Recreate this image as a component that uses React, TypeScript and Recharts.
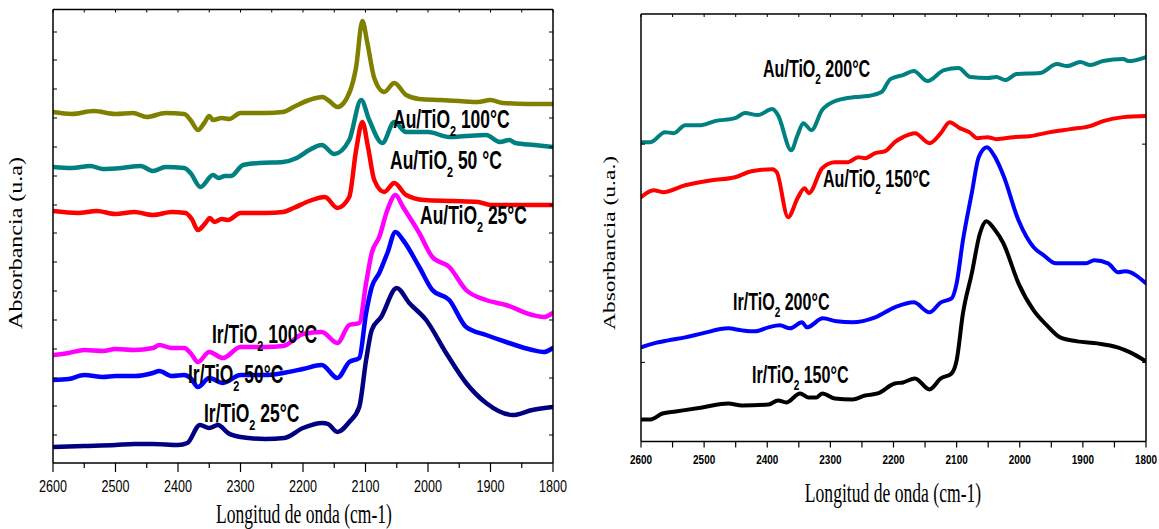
import { LineChart, Line, XAxis, YAxis } from "recharts"

// wavenumber (cm-1), absorbance (arbitrary units, offset per curve)
const auTi100 = [
  [2600, 351], [2570, 349], [2535, 352], [2500, 349], [2472, 350], [2450, 346], [2420, 350],
  [2390, 349], [2380, 343], [2368, 333], [2358, 340], [2350, 347], [2344, 343], [2330, 345],
  [2318, 344], [2300, 350], [2260, 350], [2232, 351], [2215, 356], [2190, 363], [2169, 366],
  [2158, 362], [2145, 356], [2126, 370], [2115, 396], [2105, 442], [2097, 420], [2086, 385],
  [2070, 371], [2054, 380], [2035, 368], [2014, 364], [1980, 363], [1950, 362], [1920, 361],
  [1900, 363], [1880, 360], [1840, 359], [1800, 359],
]
const auTi50 = [
  [2600, 296], [2570, 295], [2540, 297], [2520, 294], [2490, 295], [2460, 297], [2440, 292],
  [2420, 296], [2390, 295], [2380, 290], [2364, 276], [2344, 288], [2335, 285], [2325, 287],
  [2315, 287], [2296, 298], [2270, 300], [2232, 301], [2210, 305], [2190, 313], [2170, 318],
  [2150, 309], [2126, 323], [2107, 363], [2094, 343], [2073, 320], [2054, 341], [2035, 331],
  [2000, 331], [1966, 326], [1940, 327], [1907, 328], [1885, 321], [1870, 323], [1860, 320],
  [1830, 318], [1800, 316],
]
const auTi25 = [
  [2600, 252], [2560, 250], [2530, 252], [2500, 249], [2470, 251], [2440, 248], [2410, 251],
  [2388, 250], [2378, 244], [2368, 233], [2356, 240], [2349, 245], [2342, 241], [2330, 244],
  [2320, 243], [2300, 250], [2260, 250], [2232, 251], [2215, 255], [2190, 262], [2165, 266],
  [2145, 255], [2126, 266], [2115, 313], [2105, 341], [2096, 316], [2086, 283], [2070, 271],
  [2054, 280], [2035, 268], [2006, 263], [1960, 262], [1920, 261], [1900, 258], [1860, 258],
  [1800, 258],
]
const irTi100 = [
  [2600, 108], [2575, 110], [2550, 113], [2520, 112], [2500, 114], [2470, 113], [2440, 115],
  [2430, 118], [2410, 115], [2390, 115], [2380, 110], [2368, 101], [2350, 111], [2328, 105],
  [2300, 116], [2260, 116], [2232, 117], [2200, 129], [2170, 131], [2145, 120], [2126, 138],
  [2110, 140], [2099, 180], [2090, 210], [2078, 226], [2065, 253], [2052, 268], [2040, 256],
  [2014, 230], [1993, 206], [1966, 196], [1939, 173], [1907, 163], [1875, 158], [1833, 148],
  [1815, 146], [1800, 150],
]
const irTi50 = [
  [2600, 83], [2575, 84], [2550, 88], [2520, 86], [2500, 87], [2470, 87], [2440, 90],
  [2430, 92], [2410, 87], [2390, 88], [2380, 85], [2368, 76], [2350, 85], [2328, 80],
  [2300, 88], [2260, 88], [2232, 90], [2200, 94], [2170, 98], [2145, 85], [2126, 101],
  [2110, 105], [2099, 150], [2090, 176], [2078, 190], [2065, 210], [2052, 231], [2040, 223],
  [2014, 196], [1993, 173], [1966, 163], [1939, 136], [1907, 128], [1875, 121], [1833, 113],
  [1815, 111], [1800, 115],
]
const irTi25 = [
  [2600, 16], [2550, 17], [2500, 18], [2470, 19], [2440, 19], [2400, 18], [2385, 20],
  [2365, 38], [2350, 35], [2336, 38], [2320, 30], [2300, 26], [2260, 24], [2230, 25],
  [2200, 35], [2169, 40], [2160, 39], [2145, 31], [2126, 41], [2110, 56], [2099, 103],
  [2090, 133], [2075, 146], [2050, 175], [2030, 160], [2003, 143], [1971, 110], [1939, 80],
  [1907, 60], [1865, 48], [1833, 53], [1800, 56],
]

const auTi200 = [
  [2600, 299], [2585, 299], [2562, 309], [2548, 308], [2530, 316], [2505, 316], [2483, 320],
  [2451, 323], [2435, 328], [2415, 326], [2392, 332], [2383, 326], [2362, 291], [2352, 306],
  [2343, 318], [2330, 311], [2313, 331], [2288, 341], [2261, 344], [2241, 345], [2219, 349],
  [2205, 362], [2185, 366], [2168, 370], [2146, 360], [2120, 371], [2097, 373], [2078, 364],
  [2051, 363], [2037, 364], [2023, 361], [2005, 367], [1968, 368], [1941, 377], [1925, 375],
  [1904, 379], [1888, 376], [1868, 380], [1836, 382], [1828, 380], [1800, 384],
]
const auTi150 = [
  [2600, 244], [2580, 251], [2565, 249], [2530, 256], [2488, 261], [2451, 264], [2425, 270],
  [2392, 272], [2385, 269], [2367, 224], [2352, 243], [2341, 253], [2334, 248], [2313, 273],
  [2293, 279], [2272, 279], [2256, 284], [2245, 283], [2229, 288], [2213, 290], [2198, 299],
  [2185, 304], [2166, 308], [2143, 298], [2125, 308], [2111, 319], [2095, 313], [2080, 309],
  [2067, 303], [2051, 304], [2037, 302], [2010, 304], [1984, 305], [1952, 309], [1920, 312],
  [1889, 315], [1868, 320], [1836, 324], [1800, 325],
]
const irTi200 = [
  [2600, 94], [2580, 98], [2557, 101], [2530, 104], [2503, 108], [2462, 113], [2440, 111],
  [2419, 110], [2398, 114], [2380, 116], [2364, 113], [2345, 119], [2337, 114], [2312, 123],
  [2290, 120], [2265, 119], [2229, 124], [2198, 134], [2168, 139], [2143, 129], [2125, 139],
  [2108, 143], [2100, 158], [2090, 201], [2076, 248], [2065, 284], [2052, 294], [2040, 285],
  [2026, 266], [2002, 221], [1978, 194], [1962, 186], [1943, 178], [1920, 178], [1895, 178],
  [1882, 181], [1860, 178], [1844, 169], [1833, 170], [1800, 158],
]
const irTi150 = [
  [2600, 22], [2585, 22], [2566, 28], [2545, 30], [2503, 34], [2462, 38], [2440, 36],
  [2398, 37], [2383, 41], [2370, 39], [2348, 48], [2335, 44], [2322, 44], [2313, 48],
  [2293, 43], [2265, 42], [2245, 46], [2225, 48], [2198, 58], [2185, 59], [2166, 63],
  [2143, 52], [2125, 63], [2108, 68], [2100, 81], [2090, 128], [2076, 168], [2063, 208],
  [2053, 220], [2040, 212], [2026, 198], [2002, 158], [1978, 131], [1957, 116], [1936, 104],
  [1909, 100], [1877, 98], [1845, 94], [1825, 89], [1800, 80],
]

const wnTicks = [2600, 2550, 2500, 2450, 2400, 2350, 2300, 2250, 2200, 2150, 2100, 2050, 2000, 1950, 1900, 1850, 1800]
const leftYTicks = [28, 57, 85, 114, 143, 172, 201, 230, 258, 287, 316, 345, 374, 403, 431]
const rightYTicks = [79, 297]

const leftSeries = [
  { name: "Au/TiO2 100°C", pts: auTi100, color: "#808000" },
  { name: "Au/TiO2 50 °C", pts: auTi50, color: "#008080" },
  { name: "Au/TiO2 25°C", pts: auTi25, color: "#ff0000" },
  { name: "Ir/TiO2 100°C", pts: irTi100, color: "#ff00ff" },
  { name: "Ir/TiO2 50°C", pts: irTi50, color: "#0000ff" },
  { name: "Ir/TiO2 25°C", pts: irTi25, color: "#000080" },
]
const rightSeries = [
  { name: "Au/TiO2 200°C", pts: auTi200, color: "#008080" },
  { name: "Au/TiO2 150°C", pts: auTi150, color: "#ff0000" },
  { name: "Ir/TiO2 200°C", pts: irTi200, color: "#0000ff" },
  { name: "Ir/TiO2 150°C", pts: irTi150, color: "#000000" },
]

const SANS = "'Liberation Sans', Arial, sans-serif"
const SERIF = "'Liberation Serif', 'Times New Roman', serif"

const toRows = (pts: number[][]) => pts.map(([wn, a]) => ({ wn, a }))

// draws its own tick mark (longer on the labelled hundreds) plus the label
function WnTick(props: any) {
  const { x, y, payload, size, bold, sx, major, minor, gap } = props
  const isMajor = payload.value % 100 === 0
  return (
    <g transform={`translate(${x},${y})`}>
      <line x1={0} y1={0} x2={0} y2={isMajor ? major : minor} stroke="#000" strokeWidth={1.2} />
      {isMajor && (
        <text
          transform={`translate(0,${gap}) scale(${sx},1)`}
          textAnchor="middle"
          dy="0.72em"
          fontSize={size}
          fontWeight={bold ? 700 : 400}
          fontFamily={SANS}
          fill="#000"
        >
          {payload.value}
        </text>
      )}
    </g>
  )
}

const NoTick = () => <g />

function Panel({ series, yMax, yTicks, width, height, margin, xAxisH, strokeW, tick }: any) {
  const axisLine = { stroke: "#000", strokeWidth: 1.5 }
  return (
    <LineChart width={width} height={height} margin={margin}>
      <XAxis
        dataKey="wn"
        type="number"
        domain={[1800, 2600]}
        reversed
        allowDataOverflow
        ticks={wnTicks}
        interval={0}
        height={xAxisH}
        axisLine={axisLine}
        tickLine={false}
        tickSize={0}
        tickMargin={0}
        tick={(p: any) => <WnTick {...p} {...tick} />}
      />
      <XAxis
        xAxisId="top"
        orientation="top"
        mirror
        dataKey="wn"
        type="number"
        domain={[1800, 2600]}
        reversed
        allowDataOverflow
        ticks={wnTicks}
        interval={0}
        axisLine={axisLine}
        tickLine={{ stroke: "#000", strokeWidth: 1 }}
        tickSize={3}
        tick={NoTick}
      />
      <YAxis
        type="number"
        domain={[0, yMax]}
        allowDataOverflow
        ticks={yTicks}
        interval={0}
        mirror
        axisLine={axisLine}
        tickLine={{ stroke: "#000", strokeWidth: 1 }}
        tickSize={4}
        tick={NoTick}
      />
      <YAxis
        yAxisId="right"
        orientation="right"
        type="number"
        domain={[0, yMax]}
        allowDataOverflow
        ticks={yTicks}
        interval={0}
        mirror
        axisLine={axisLine}
        tickLine={{ stroke: "#000", strokeWidth: 1 }}
        tickSize={4}
        tick={NoTick}
      />
      {series.map((s: any) => (
        <Line
          key={s.name}
          name={s.name}
          data={toRows(s.pts)}
          dataKey="a"
          type="monotone"
          stroke={s.color}
          strokeWidth={strokeW}
          strokeLinejoin="round"
          strokeLinecap="round"
          dot={false}
          activeDot={false}
          isAnimationActive={false}
        />
      ))}
    </LineChart>
  )
}

function Tag({ x, y, head, temp, size, sx }: any) {
  return (
    <text
      transform={`translate(${x},${y}) scale(${sx},1)`}
      fontFamily={SANS}
      fontWeight={700}
      fontSize={size}
      fill="#000"
    >
      {head}
      <tspan fontSize={size * 0.62} dy={size * 0.3}>2</tspan>
      <tspan dy={-size * 0.3}>{temp}</tspan>
    </text>
  )
}

function AxisTitle({ x, y, text, size, sx, vertical }: any) {
  const t = vertical
    ? `translate(${x},${y}) scale(${sx},1) rotate(-90)`
    : `translate(${x},${y}) scale(${sx},1)`
  return (
    <text transform={t} textAnchor="middle" fontFamily={SERIF} fontSize={size} fill="#000">
      {text}
    </text>
  )
}

export default function App() {
  return (
    <div style={{ position: "absolute", left: 0, top: 0, width: 1159, height: 529, background: "#fff", overflow: "hidden" }}>
      <div style={{ position: "absolute", left: 0, top: 0 }}>
        <Panel
          series={leftSeries}
          yMax={453.5}
          yTicks={leftYTicks}
          width={580}
          height={529}
          margin={{ top: 9.5, right: 27, bottom: 0, left: 53 }}
          xAxisH={66}
          strokeW={4.5}
          tick={{ size: 16.3, bold: false, sx: 0.77, major: 9, minor: 5, gap: 17 }}
        />
      </div>
      <div style={{ position: "absolute", left: 590, top: 0 }}>
        <Panel
          series={rightSeries}
          yMax={427}
          yTicks={rightYTicks}
          width={569}
          height={529}
          margin={{ top: 14, right: 13, bottom: 0, left: 51 }}
          xAxisH={87.5}
          strokeW={4}
          tick={{ size: 12.8, bold: true, sx: 0.78, major: 6, minor: 6, gap: 13.5 }}
        />
      </div>
      <svg width={1159} height={529} style={{ position: "absolute", left: 0, top: 0, pointerEvents: "none" }}>
        <Tag x={393} y={128} head="Au/TiO" temp=" 100°C" size={25} sx={0.7} />
        <Tag x={390} y={169} head="Au/TiO" temp=" 50 °C" size={25} sx={0.7} />
        <Tag x={420} y={224} head="Au/TiO" temp=" 25°C" size={25} sx={0.7} />
        <Tag x={212} y={343} head="Ir/TiO" temp=" 100°C" size={25} sx={0.7} />
        <Tag x={188} y={383} head="Ir/TiO" temp=" 50°C" size={25} sx={0.7} />
        <Tag x={204} y={422} head="Ir/TiO" temp=" 25°C" size={25} sx={0.7} />

        <Tag x={763} y={77} head="Au/TiO" temp=" 200°C" size={24} sx={0.67} />
        <Tag x={823} y={187} head="Au/TiO" temp=" 150°C" size={24} sx={0.67} />
        <Tag x={733} y={310} head="Ir/TiO" temp=" 200°C" size={24} sx={0.67} />
        <Tag x={752} y={383} head="Ir/TiO" temp=" 150°C" size={24} sx={0.67} />

        <AxisTitle x={304} y={523} text="Longitud de onda (cm-1)" size={27} sx={0.65} />
        <AxisTitle x={893} y={502} text="Longitud de onda (cm-1)" size={27.5} sx={0.64} />
        <AxisTitle x={22} y={243} text="Absorbancia (u.a)" size={24} sx={0.77} vertical />
        <AxisTitle x={615} y={243} text="Absorbancia (u.a.)" size={23.5} sx={0.75} vertical />
      </svg>
    </div>
  )
}
